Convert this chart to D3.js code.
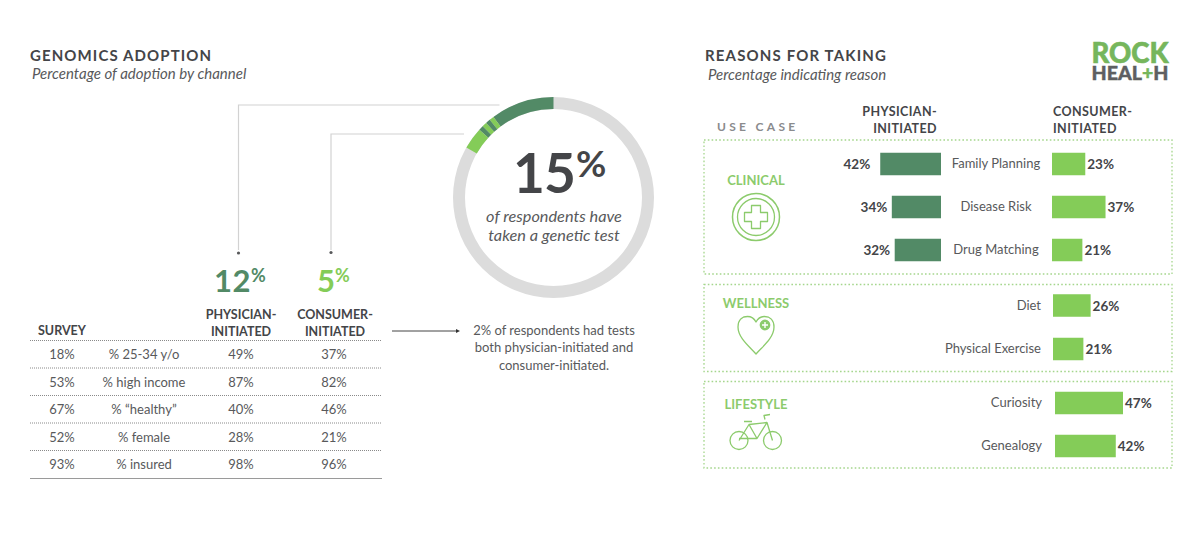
<!DOCTYPE html>
<html><head><meta charset="utf-8">
<script src="https://cdn.jsdelivr.net/npm/d3@7"></script>
<style>html,body{margin:0;padding:0;background:#fff}svg{display:block}text{font-family:Lato,sans-serif}</style>
</head><body><svg id="c" width="1200" height="540"></svg>
<script>
const ringSegments=[["dark",10.2],["light",0.75],["dark",0.75],["light",0.75],["dark",0.75],["light",3.5]];
const ringTotal=100;
const surveyRows=["18%","53%","67%","52%","93%"];
const surveyLabels=["% 25-34 y/o","% high income","% “healthy”","% female","% insured"];
const surveyPhysician=["49%","87%","40%","28%","98%"];
const surveyConsumer=["37%","82%","46%","21%","96%"];
const clinicalReasons=["Family Planning","Disease Risk","Drug Matching"];
const clinicalPhysician=[42,34,32];
const clinicalConsumer=[23,37,21];
const wellnessReasons=["Diet","Physical Exercise"];
const wellnessConsumer=[26,21];
const lifestyleReasons=["Curiosity","Genealogy"];
const lifestyleConsumer=[47,42];

const DARK="#528a66",LIGHT="#84cc58",INK="#444548",GREY="#58595b",RING="#dcdcdc",ICON="#8ccb6c";
const svg=d3.select("#c");
function t(x,y,s,o={}){
  const e=svg.append("text").attr("x",x).attr("y",y).text(s)
   .attr("font-size",o.size||13).attr("fill",o.fill||GREY).attr("text-anchor",o.anchor||"start");
  if(o.weight)e.attr("font-weight",o.weight);
  if(o.italic)e.attr("font-style","italic");
  if(o.ls)e.attr("letter-spacing",o.ls);
  return e;
}
// titles
t(30,61,"GENOMICS ADOPTION",{size:15,weight:700,fill:INK,ls:1.1});
t(32,79,"Percentage of adoption by channel",{size:15,italic:true});
t(705,61,"REASONS FOR TAKING",{size:15,weight:700,fill:INK,ls:1.15});
t(708,80,"Percentage indicating reason",{size:15,italic:true});

// ring
const cx=553.5,cy=197.5,ro=100.5,ri=88.5;
const ang=d3.scaleLinear().domain([0,ringTotal]).range([0,-2*Math.PI]);
const arc=d3.arc().innerRadius(ri).outerRadius(ro);
const ring=svg.append("g").attr("transform",`translate(${cx},${cy})`);
ring.append("path").attr("d",arc({startAngle:0,endAngle:2*Math.PI})).attr("fill",RING);
let acc=0;
ringSegments.forEach(([k,v])=>{
  ring.append("path").attr("d",arc({startAngle:ang(acc),endAngle:ang(acc+v)})).attr("fill",k==="dark"?DARK:LIGHT);
  acc+=v;
});
// connectors
const conn=svg.append("g").attr("fill","none").attr("stroke","#d2d2d2").attr("stroke-width",1.2);
conn.append("path").attr("d","M499.5 105H238.5V250");
conn.append("path").attr("d","M464 134H331V250");
svg.append("circle").attr("cx",238.5).attr("cy",253).attr("r",1.6).attr("fill",GREY);
svg.append("circle").attr("cx",331).attr("cy",252.5).attr("r",1.6).attr("fill",GREY);
// ring text
t(513,193,"15",{size:55,weight:700,fill:INK,ls:-.8});
t(576,177,"%",{size:37,fill:INK,weight:700});
t(554,222,"of respondents have",{size:16.3,italic:true,anchor:"middle"});
t(554,241,"taken a genetic test",{size:16.3,italic:true,anchor:"middle"});
// big numbers
t(214,292,"12",{size:31,weight:700,fill:DARK,ls:.5});
t(251,282,"%",{size:18,weight:700,fill:DARK});
t(317,292,"5",{size:31,weight:700,fill:LIGHT});
t(335,282,"%",{size:18,weight:700,fill:LIGHT});
// table header
t(38,335,"SURVEY",{size:12.5,weight:700,fill:INK});
t(241,319,"PHYSICIAN-",{size:12.5,weight:700,fill:INK,anchor:"middle"});
t(241,336,"INITIATED",{size:12.5,weight:700,fill:INK,anchor:"middle"});
t(335,319,"CONSUMER-",{size:12.5,weight:700,fill:INK,anchor:"middle"});
t(335,336,"INITIATED",{size:12.5,weight:700,fill:INK,anchor:"middle"});
const rowY=d3.scalePoint().domain(surveyLabels).range([354,464]);
const rule=y=>svg.append("line").attr("x1",30).attr("x2",382).attr("y1",y).attr("y2",y);
rule(340.5).attr("stroke","#8a8a8a").attr("stroke-dasharray","1 1");
surveyLabels.forEach((l,i)=>{
  const y=rowY(l);
  t(62,y+5,surveyRows[i],{size:13,anchor:"middle"});
  t(144,y+5,l,{size:13,anchor:"middle"});
  t(241,y+5,surveyPhysician[i],{size:13,anchor:"middle"});
  t(334,y+5,surveyConsumer[i],{size:13,anchor:"middle"});
  if(i<4)rule(y+14).attr("stroke","#8a8a8a").attr("stroke-dasharray","1 1");
});
rule(478.5).attr("stroke","#9a9a9a");
// arrow
svg.append("line").attr("x1",392).attr("x2",456).attr("y1",331).attr("y2",331).attr("stroke","#444");
svg.append("path").attr("d",d3.line()([[456,329],[460,331],[456,333]])).attr("fill","#333");
["2% of respondents had tests","both physician-initiated and","consumer-initiated."].forEach((s,i)=>t(554,335+i*17.3,s,{size:13,anchor:"middle"}));

// logo
t(1091.5,63,"ROCK",{size:28,weight:900,fill:"#76b65c"}).attr("textLength",77).attr("lengthAdjust","spacingAndGlyphs").attr("stroke","#76b65c").attr("stroke-width",.6);
const h=t(1091.5,80,"HEAL",{size:19.5,weight:900,fill:"#5e5f62"}).attr("textLength",77).attr("lengthAdjust","spacingAndGlyphs").attr("stroke","#5e5f62").attr("stroke-width",.4);
h.append("tspan").text("+").attr("fill","#76b65c").attr("stroke","#76b65c");
h.append("tspan").text("H");

// right headers
t(717,131,"USE CASE",{size:12,fill:"#8a8b8d",weight:700,ls:3.3});
t(937,116,"PHYSICIAN-",{size:12.5,weight:700,fill:INK,anchor:"end",ls:.4});
t(937,133,"INITIATED",{size:12.5,weight:700,fill:INK,anchor:"end",ls:.4});
t(1053,116,"CONSUMER-",{size:12.5,weight:700,fill:INK,ls:.4});
t(1053,133,"INITIATED",{size:12.5,weight:700,fill:INK,ls:.4});
// boxes
const box=(y1,y2)=>svg.append("rect").attr("x",704).attr("y",y1).attr("width",468).attr("height",y2-y1)
 .attr("fill","none").attr("stroke","#a5d68d").attr("stroke-width",1.3).attr("stroke-dasharray","1.6 2.2");
box(140,274);box(284.5,371.5);box(381.5,468);

// bars: scale is shared
const w=d3.scaleLinear().domain([0,47]).range([0,68]);
const barH=22.5;
function group(names,ys,consumer,x0,labelX,physician,anchor){
  names.forEach((n,i)=>{
    const y=ys(n);
    svg.append("rect").attr("x",x0).attr("y",y-barH/2).attr("width",w(consumer[i])).attr("height",barH).attr("fill",LIGHT);
    t(x0+w(consumer[i])+2,y+5,consumer[i]+"%",{size:13.5,weight:700,fill:INK});
    t(labelX,y+4,n,{size:13,anchor:anchor||"end"});
    if(physician){
      const pw=w(physician[i]);
      svg.append("rect").attr("x",941-pw).attr("y",y-barH/2).attr("width",pw).attr("height",barH).attr("fill",DARK);
      t(941-pw-(physician[i]===42?10:4.5),y+5,physician[i]+"%",{size:13.5,weight:700,fill:INK,anchor:"end"});
    }
  });
}
group(clinicalReasons,d3.scalePoint().domain(clinicalReasons).range([164,250]),clinicalConsumer,1052,996,clinicalPhysician,"middle");
group(wellnessReasons,d3.scalePoint().domain(wellnessReasons).range([305.5,349]),wellnessConsumer,1053,1041,null);
group(lifestyleReasons,d3.scalePoint().domain(lifestyleReasons).range([403,446]),lifestyleConsumer,1055,1042,null);

// categories
t(756,185,"CLINICAL",{size:13,weight:700,fill:ICON,anchor:"middle"});
t(756,308,"WELLNESS",{size:13,weight:700,fill:ICON,anchor:"middle"});
t(756,409,"LIFESTYLE",{size:13,weight:700,fill:ICON,anchor:"middle"});
// icons
const ic=svg.append("g").attr("fill","none").attr("stroke",ICON).attr("stroke-width",1.3).attr("stroke-linejoin","round");
ic.append("circle").attr("cx",756).attr("cy",217).attr("r",23.5).attr("stroke-width",1.5);
ic.append("circle").attr("cx",756).attr("cy",217).attr("r",18.5);
ic.append("path").attr("d","M751.5 205.5h9v7h7v9h-7v7h-9v-7h-7v-9h7z");
ic.append("path").attr("d","M756 354C750 347 738 338 738 327C738 319 743 316.5 747.5 316.5C751.5 316.5 754.5 319 756 322C757.5 319 760.5 316.5 764.5 316.5C770 316.5 774 320 774 327C774 338 762 347 756 354Z").attr("stroke-width",1.3);
ic.append("circle").attr("cx",765).attr("cy",325).attr("r",6).attr("fill",ICON).attr("stroke","#fff").attr("stroke-width",1.2);
ic.append("path").attr("d","M762 325h6M765 322v6").attr("stroke","#fff").attr("stroke-width",1.4);
const bike=ic.append("g").attr("transform","translate(0,1.5)");
bike.append("circle").attr("cx",739).attr("cy",439).attr("r",9);
bike.append("circle").attr("cx",772.5).attr("cy",439).attr("r",9);
bike.append("path").attr("d","M739 439L749 423L767 421M749 423L757 437H739M757 437L767 421L772.5 439M765 418L764 414L770 413M744 420H752");
</script></body></html>
